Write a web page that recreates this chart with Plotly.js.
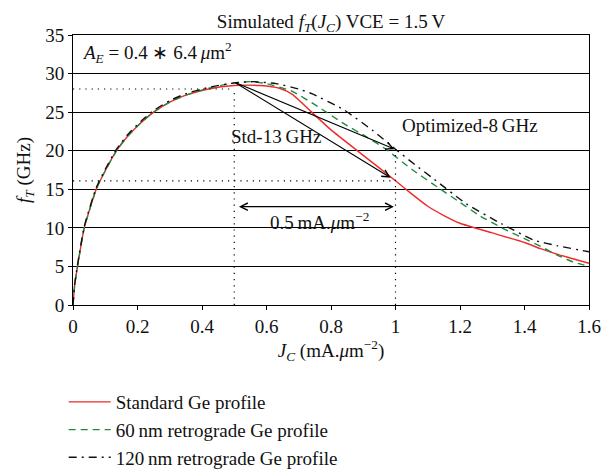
<!DOCTYPE html>
<html>
<head>
<meta charset="utf-8">
<script src="https://cdn.plot.ly/plotly-3.0.1.min.js"></script>
<style>
  html, body { margin: 0; padding: 0; background: #fff; }
  #chart { width: 604px; height: 470px; }
</style>
</head>
<body>
<div id="chart"></div>
<script>
// Collector current density (mA/um^2) and transit frequency fT (GHz)
const jcStd = [0, 0.005, 0.014, 0.035, 0.072, 0.1, 0.135, 0.17, 0.21, 0.25, 0.3, 0.35, 0.42, 0.5, 0.58, 0.64, 0.68, 0.74, 0.8, 0.9, 1.0, 1.05, 1.1, 1.15, 1.2, 1.3, 1.4, 1.45, 1.5, 1.55, 1.6];
const ftStd = [0, 2.5, 5, 10, 15, 17.4, 20, 21.9, 23.6, 25, 26.3, 27.2, 28.0, 28.45, 28.45, 28.1, 27.3, 25.0, 22.7, 19.4, 16.1, 14.4, 12.8, 11.6, 10.6, 9.35, 8.1, 7.3, 6.6, 6.0, 5.4];

const jc60 = [0, 0.005, 0.014, 0.035, 0.072, 0.1, 0.135, 0.17, 0.21, 0.25, 0.3, 0.35, 0.42, 0.5, 0.55, 0.6, 0.68, 0.76, 0.84, 0.91, 0.97, 1.05, 1.14, 1.2, 1.26, 1.33, 1.4, 1.45, 1.5, 1.55, 1.6];
const ft60 = [0, 2.5, 5, 10, 15, 17.4, 20, 21.9, 23.6, 25, 26.3, 27.2, 28.1, 28.8, 28.95, 28.7, 27.7, 25.7, 23.5, 21.8, 20.2, 17.6, 15.0, 13.3, 11.6, 10.0, 8.6, 7.6, 6.5, 5.6, 5.0];

const jc120 = [0, 0.005, 0.014, 0.035, 0.072, 0.1, 0.135, 0.17, 0.21, 0.25, 0.3, 0.35, 0.42, 0.5, 0.56, 0.63, 0.7, 0.74, 0.84, 0.93, 1.0, 1.06, 1.12, 1.22, 1.33, 1.43, 1.5, 1.6];
const ft120 = [0, 2.6, 5.2, 10.2, 15.2, 17.6, 20.2, 22.1, 23.8, 25.2, 26.5, 27.4, 28.2, 28.8, 28.95, 28.7, 28.0, 27.4, 25.3, 22.6, 20.2, 18.2, 16.3, 13.1, 10.5, 8.4, 7.7, 6.9];

const seriesNames = ['Standard Ge profile', '60\u2009nm retrograde Ge profile', '120\u2009nm retrograde Ge profile'];

// Marked operating points: peak fT and the fT reached 0.5 mA/um^2 later
const peakJc = 0.5, peakFt = 28.9, peakGuide = 28;
const endJc = 1.0, endFtStd = 16.5, endFtOpt = 20.2, guideStd = 16.1;
const spanY = 12.75;

const serif = "'Liberation Serif', 'Times New Roman', serif";
const txt = { family: serif, size: 19, color: '#111' };

const traces = [
  { x: jcStd, y: ftStd, name: seriesNames[0], mode: 'lines',
    line: { color: '#ee2a2a', width: 1.4, shape: 'spline', smoothing: 0.5 } },
  { x: jc60, y: ft60, name: seriesNames[1], mode: 'lines',
    line: { color: '#1f8a3e', width: 1.4, dash: '7px,5px', shape: 'spline', smoothing: 0.5 } },
  { x: jc120, y: ft120, name: seriesNames[2], mode: 'lines',
    line: { color: '#111111', width: 1.4, dash: '8px,5px,2px,5px', shape: 'spline', smoothing: 0.5 } }
];

const dotted = { color: '#000', width: 1.2, dash: '1.2px,5px' };

const layout = {
  width: 604, height: 470,
  margin: { l: 73, r: 15, t: 35, b: 165, autoexpand: false },
  paper_bgcolor: '#fff', plot_bgcolor: '#fff',
  font: txt,
  showlegend: true,
  title: {
    text: 'Simulated <i>f</i><sub><i>T</i></sub>(<i>J</i><sub><i>C</i></sub>) VCE = 1.5\u2009V',
    font: txt,
    x: 0.5, xref: 'paper', y: 1 - 21 / 470, yref: 'container', yanchor: 'middle'
  },
  xaxis: {
    range: [0, 1.6], dtick: 0.2, tick0: 0,
    showgrid: false, zeroline: false,
    showline: true, linecolor: '#000', linewidth: 1, mirror: true,
    ticks: 'outside', ticklen: 4, tickcolor: '#000',
    tickfont: txt,
    title: { text: '<i>J</i><sub><i>C</i></sub> (mA.<i>\u03bc</i>m<sup>\u22122</sup>)',
             font: txt, standoff: 5 }
  },
  yaxis: {
    range: [0, 35], dtick: 5, tick0: 0,
    showgrid: true, gridcolor: '#000', gridwidth: 1, zeroline: false,
    showline: true, linecolor: '#000', linewidth: 1, mirror: true,
    ticks: 'outside', ticklen: 4, tickcolor: '#000',
    tickfont: txt,
    title: { text: '<i>f</i><sub><i>T</i></sub> (GHz)', font: txt, standoff: 9 }
  },
  legend: {
    x: -0.018, xanchor: 'left', y: -0.289, yanchor: 'top',
    bgcolor: 'rgba(0,0,0,0)', borderwidth: 0,
    font: txt, tracegroupgap: 0, itemwidth: 42
  },
  shapes: [
    { type: 'line', xref: 'x', yref: 'y', x0: 0, x1: peakJc, y0: peakGuide, y1: peakGuide, line: dotted },
    { type: 'line', xref: 'x', yref: 'y', x0: peakJc, x1: peakJc, y0: 0, y1: peakGuide, line: dotted },
    { type: 'line', xref: 'x', yref: 'y', x0: 0, x1: endJc, y0: guideStd, y1: guideStd, line: dotted },
    { type: 'line', xref: 'x', yref: 'y', x0: endJc, x1: endJc, y0: 0, y1: endFtOpt, line: dotted }
  ],
  annotations: [
    { xref: 'x', yref: 'y', axref: 'x', ayref: 'y',
      x: endJc - 0.015, y: endFtStd, ax: peakJc, ay: peakFt,
      text: '', showarrow: true, arrowhead: 5, arrowsize: 1.3, arrowwidth: 1.1, arrowcolor: '#000', standoff: 0, startstandoff: 0 },
    { xref: 'x', yref: 'y', axref: 'x', ayref: 'y',
      x: endJc - 0.003, y: endFtOpt, ax: peakJc, ay: peakFt,
      text: '', showarrow: true, arrowhead: 5, arrowsize: 1.3, arrowwidth: 1.1, arrowcolor: '#000', standoff: 0, startstandoff: 0 },
    { xref: 'x', yref: 'y', axref: 'x', ayref: 'y',
      x: endJc - 0.005, y: spanY, ax: peakJc + 0.01, ay: spanY,
      text: '', showarrow: true, arrowhead: 5, startarrowhead: 5, arrowside: 'end+start',
      arrowsize: 1.3, startarrowsize: 1.3, arrowwidth: 1.1, arrowcolor: '#000', standoff: 0, startstandoff: 0 },
    { xref: 'paper', yref: 'y', x: 0.013, y: 32.7, xanchor: 'left', yanchor: 'middle',
      text: '<i>A</i><sub><i>E</i></sub> = 0.4 \u2217 6.4\u2009<i>\u03bc</i>m<sup>2</sup>',
      showarrow: false, font: txt },
    { xref: 'x', yref: 'y', x: 1.232, y: 23.3, xanchor: 'center', yanchor: 'middle',
      text: 'Optimized-8\u2009GHz', showarrow: false, font: txt },
    { xref: 'x', yref: 'y', x: 0.63, y: 21.8, xanchor: 'center', yanchor: 'middle',
      text: 'Std-13\u2009GHz', showarrow: false, font: txt },
    { xref: 'x', yref: 'y', x: 0.765, y: 10.9, xanchor: 'center', yanchor: 'middle',
      text: '0.5\u2009mA.<i>\u03bc</i>m<sup>\u22122</sup>', showarrow: false, font: txt }
  ]
};

Plotly.newPlot('chart', traces, layout, { displayModeBar: false, staticPlot: true });
</script>
</body>
</html>
